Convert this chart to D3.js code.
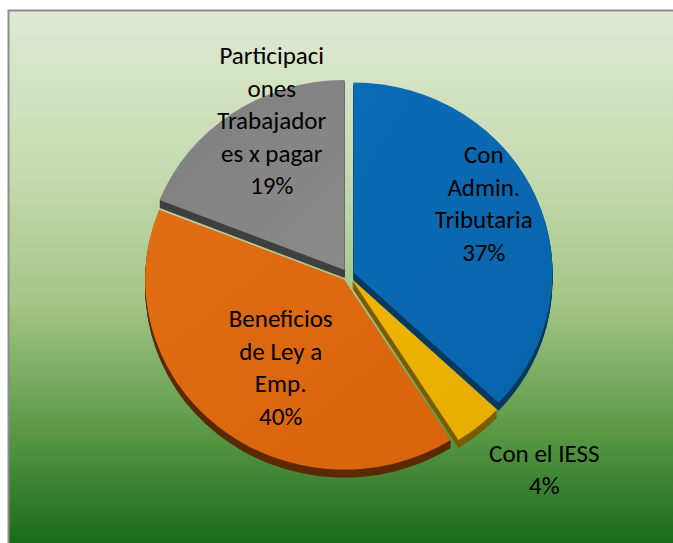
<!DOCTYPE html>
<html>
<head>
<meta charset="utf-8">
<script src="https://cdn.jsdelivr.net/npm/d3@7"></script>
<style>
html,body{margin:0;padding:0;background:#fff;}
svg{display:block;}
</style>
</head>
<body>
<svg id="chart" width="673" height="543"></svg>
<script>
// ---- data ----
const categories = ["Con Admin. Tributaria", "Con el IESS", "Beneficios de Ley a Emp.", "Participaciones Trabajadores x pagar"];
const values = [37, 4, 40, 19];
const labelLines = [["Con", "Admin.", "Tributaria"], ["Con el IESS"], ["Beneficios", "de Ley a", "Emp."], ["Participaci", "ones", "Trabajador", "es x pagar"]];
const faceColors = ["#0a6cb6", "#f0b400", "#e06e14", "#7f7f7f"];
const faceColorsDark = ["#0764ab", "#e8ac00", "#d8630b", "#8a8a8a"];
const sideColors = ["#0b3a5e", "#7a5c00", "#5c2a06", "#404040"];
// label placement (polar: angle offset in degrees from slice middle, radius fraction)
const labelPolar = [[-5.6, 0.78], [-4.4, 1.42], [-4.6, 0.59], [9, 0.9]];

const W = 673, H = 543;
const svg = d3.select("#chart");
const defs = svg.append("defs");

// background gradient
const bg = defs.append("linearGradient").attr("id", "bg")
  .attr("gradientUnits", "userSpaceOnUse").attr("x1", 0).attr("y1", 10).attr("x2", 0).attr("y2", 545);
[[0, "#dfe9d3"], [0.3, "#c6dbb0"], [0.55, "#a3c585"], [0.78, "#5c9a47"], [1, "#196a19"]]
  .forEach(([o, c]) => bg.append("stop").attr("offset", o).attr("stop-color", c));

svg.append("rect").attr("x", 8.5).attr("y", 10.5).attr("width", 700).attr("height", 560)
  .attr("fill", "url(#bg)").attr("stroke", "#8c8c8c").attr("stroke-width", 2);

// slice gradients
faceColors.forEach((c, i) => {
  const g = defs.append("linearGradient").attr("id", "sg" + i)
    .attr("x1", "0%").attr("y1", "0%").attr("x2", "100%").attr("y2", "100%");
  g.append("stop").attr("offset", "0%").attr("stop-color", c);
  g.append("stop").attr("offset", "100%").attr("stop-color", faceColorsDark[i]);
});

const cx = 348, cy = 275, rx = 199, ry = 190, explode = 6, depth = 8;
const k = ry / rx;

const pie = d3.pie().sort(null).value(d => d)(values);
const arc = d3.arc().innerRadius(0).outerRadius(rx);

const root = svg.append("g").attr("transform", `translate(${cx},${cy}) scale(1,${k})`);

function offsetOf(p) {
  const a = (p.startAngle + p.endAngle) / 2;
  return [Math.sin(a) * explode, -Math.cos(a) * explode / k];
}

// sides (extrusion)
const sides = root.append("g");
for (let s = depth; s >= 1; s--) {
  sides.selectAll(null).data(pie).enter().append("path")
    .attr("d", arc)
    .attr("fill", (d, i) => sideColors[i])
    .attr("transform", d => { const o = offsetOf(d); return `translate(${o[0]},${o[1] + s / k})`; });
}
// faces
root.append("g").selectAll("path").data(pie).enter().append("path")
  .attr("d", arc)
  .attr("fill", (d, i) => `url(#sg${i})`)
  .attr("transform", d => { const o = offsetOf(d); return `translate(${o[0]},${o[1]})`; });

// labels
const total = d3.sum(values);
const lineH = 32.5;
const labels = svg.append("g")
  .attr("font-family", "Carlito, Calibri, Lato, 'Open Sans', sans-serif")
  .attr("font-size", 25).attr("fill", "#000").attr("text-anchor", "middle");

pie.forEach((p, i) => {
  const a = (p.startAngle + p.endAngle) / 2 + labelPolar[i][0] * Math.PI / 180;
  const r = rx * labelPolar[i][1];
  const x = cx + Math.sin(a) * r;
  const y = cy - Math.cos(a) * r * k;
  const lines = labelLines[i].concat([Math.round(values[i] / total * 100) + "%"]);
  const y0 = y - (lines.length - 1) * lineH / 2;
  const t = labels.append("text").attr("x", x).attr("y", y0).attr("dominant-baseline", "central");
  lines.forEach((ln, j) => t.append("tspan").attr("x", x).attr("y", y0 + j * lineH).text(ln));
});
</script>
</body>
</html>
